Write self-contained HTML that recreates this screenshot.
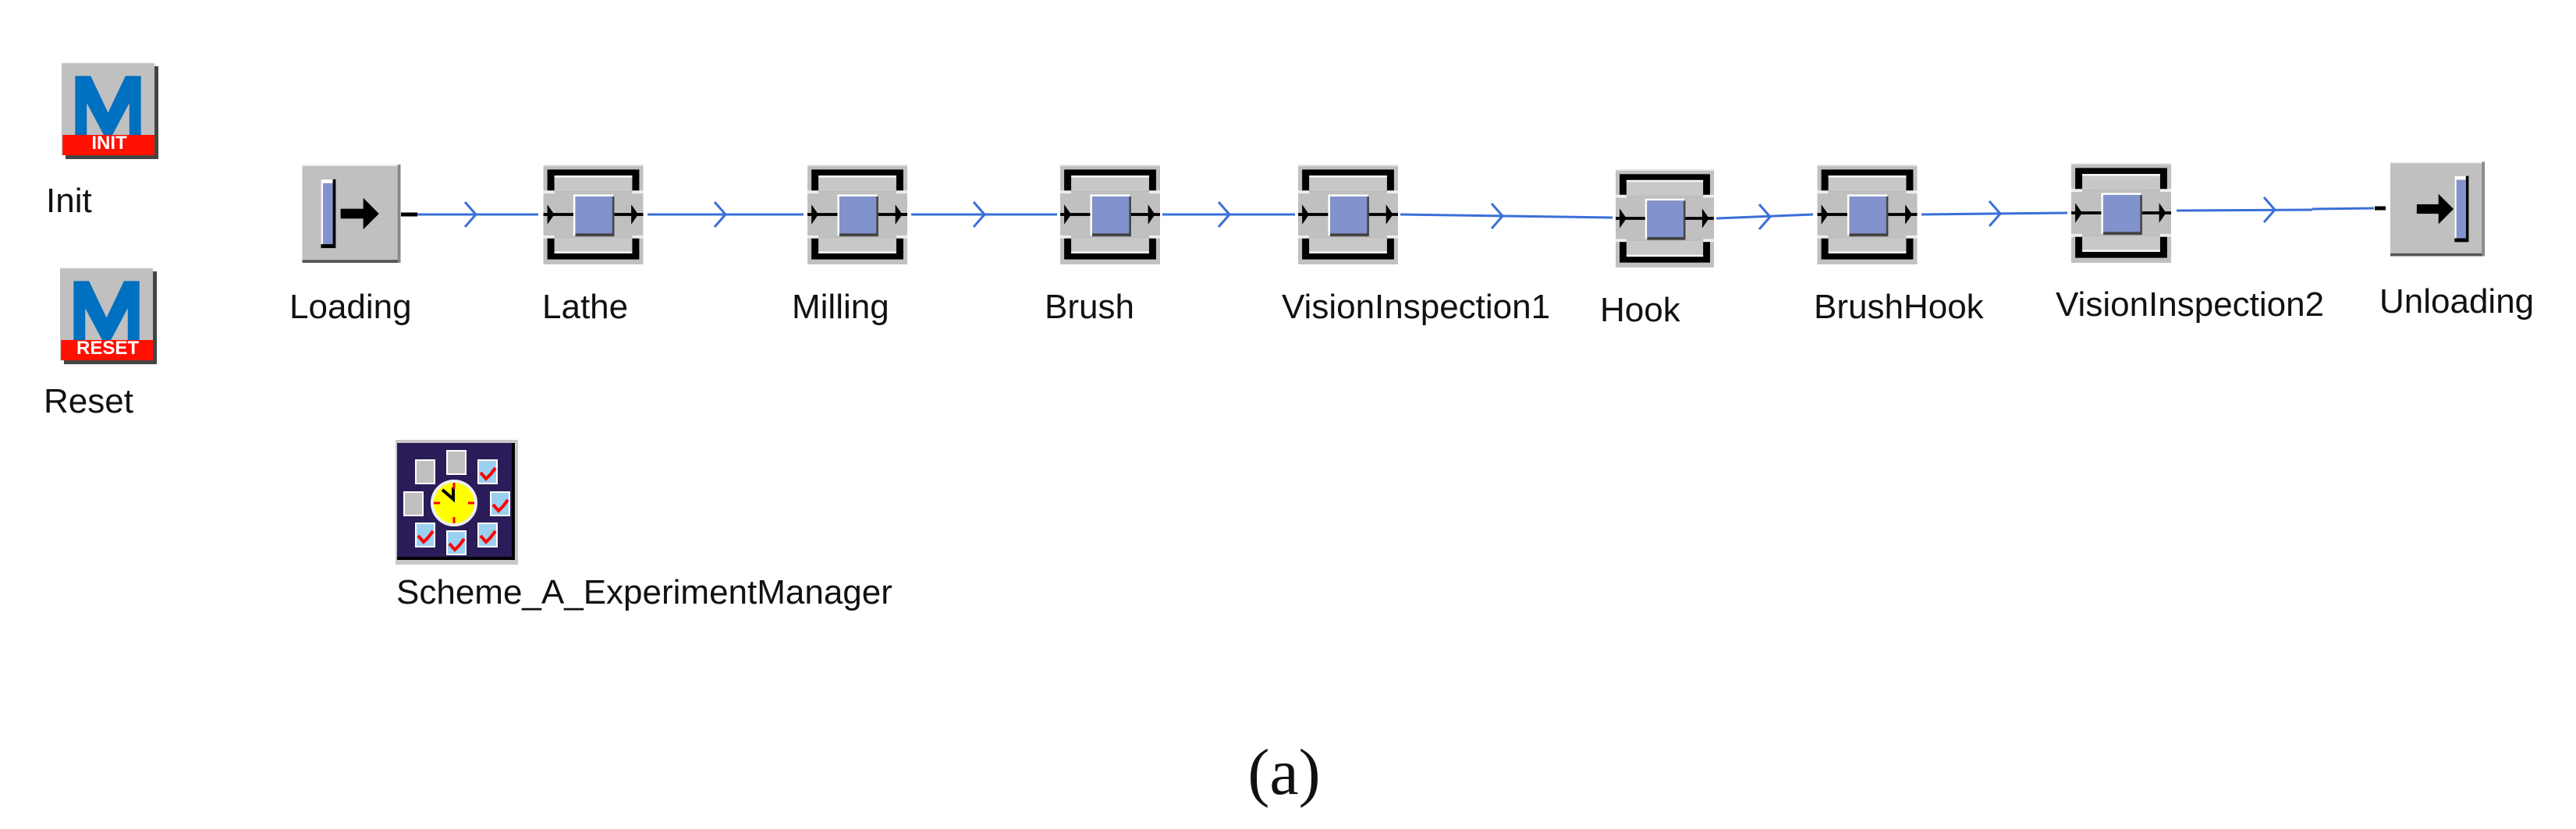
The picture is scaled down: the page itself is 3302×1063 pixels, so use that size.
<!DOCTYPE html>
<html><head><meta charset="utf-8"><style>
html,body{margin:0;padding:0;background:#fff;}
svg{display:block}
text{font-family:"Liberation Sans",sans-serif;font-size:44px;fill:#111}
</style></head><body>
<svg width="3302" height="1063" viewBox="0 0 3302 1063" xmlns="http://www.w3.org/2000/svg">
<defs>
<symbol id="st" viewBox="0 0 100 100">
<rect x="0" y="0" width="100" height="100" fill="#c0c0c0"/>
<rect x="0" y="0" width="100" height="1.5" fill="#e8e8e8"/>
<rect x="4" y="5" width="92" height="22" fill="#000"/>
<rect x="11" y="11" width="78" height="16" fill="#c8c8c8"/>
<rect x="11" y="11" width="78" height="2" fill="#f4f4f4"/>
<rect x="0" y="26" width="11" height="3" fill="#eee"/><rect x="89" y="26" width="11" height="3" fill="#eee"/>
<rect x="4" y="73" width="92" height="22" fill="#000"/>
<rect x="11" y="73" width="78" height="16" fill="#c8c8c8"/>
<rect x="11" y="87" width="78" height="2" fill="#f4f4f4"/>
<rect x="0" y="71" width="11" height="3" fill="#eee"/><rect x="89" y="71" width="11" height="3" fill="#eee"/>
<rect x="0" y="48.5" width="100" height="3" fill="#000"/>
<polygon points="4,40 11,50 4,60" fill="#000"/>
<polygon points="88,40 95,50 88,60" fill="#000"/>
<rect x="30" y="30" width="40" height="41" fill="#fff"/>
<rect x="32" y="32" width="39" height="40" fill="#444"/>
<rect x="32" y="32" width="37" height="37" fill="#8292cc"/>
</symbol>
<symbol id="ld" viewBox="0 0 100 100">
<rect x="0" y="0" width="100" height="100" fill="#c0c0c0"/>
<rect x="0" y="0" width="100" height="1.5" fill="#eee"/>
<rect x="0" y="97" width="100" height="3" fill="#555"/>
<rect x="97" y="0" width="3" height="100" fill="#888"/>
<rect x="19" y="15" width="15" height="70" fill="#000"/>
<rect x="19" y="15" width="12" height="66" fill="#fff"/>
<rect x="21" y="19" width="10" height="62" fill="#8292cc"/>
<rect x="39" y="45" width="30" height="10" fill="#000"/>
<polygon points="62,34 78,50 62,66" fill="#000"/>
</symbol>
<symbol id="ul" viewBox="0 0 100 100">
<rect x="0" y="0" width="100" height="100" fill="#c0c0c0"/>
<rect x="0" y="0" width="100" height="1.5" fill="#eee"/>
<rect x="0" y="97" width="100" height="3" fill="#555"/>
<rect x="97" y="0" width="3" height="100" fill="#888"/>
<rect x="28" y="45" width="30" height="10" fill="#000"/>
<polygon points="51,34 67,50 51,66" fill="#000"/>
<rect x="68" y="15" width="15" height="70" fill="#000"/>
<rect x="68" y="15" width="12" height="66" fill="#fff"/>
<rect x="70" y="19" width="10" height="62" fill="#8292cc"/>
</symbol>
<symbol id="m" viewBox="0 0 100 100">
<rect x="4" y="4" width="96" height="96" fill="#444"/>
<rect x="0" y="0" width="96" height="96" fill="#c0c0c0"/>
<rect x="0" y="0" width="96" height="1" fill="#eee"/>
<polygon points="14,14 30,14 48,52 66,14 82,14 82,76 70,76 70,42 52,76 44,76 26,42 26,76 14,76" fill="#0070c0"/>
<rect x="1" y="75" width="95" height="21" fill="#ff1000"/>
</symbol>
</defs>

<!-- Init / Reset -->
<use href="#m" x="78" y="80" width="126" height="124"/>
<text x="140" y="191" style="font-size:24px;fill:#fff;font-weight:bold" text-anchor="middle">INIT</text>
<text x="59" y="272">Init</text>
<use href="#m" x="76" y="343" width="126" height="124"/>
<text x="138" y="454" style="font-size:24px;fill:#fff;font-weight:bold" text-anchor="middle">RESET</text>
<text x="56" y="529">Reset</text>

<!-- connectors -->
<g stroke="#3a6fd8" stroke-width="3" fill="none">
<line x1="530" y1="275" x2="690" y2="275"/><polyline points="596,259 610,275 596,291"/>
<line x1="830" y1="275" x2="1030" y2="275"/><polyline points="916,259 930,275 916,291"/>
<line x1="1168" y1="275" x2="1355" y2="275"/><polyline points="1248,259 1262,275 1248,291"/>
<line x1="1490" y1="275" x2="1660" y2="275"/><polyline points="1562,259 1576,275 1562,291"/>
<line x1="1795" y1="275" x2="2067" y2="279"/><polyline points="1912,261 1926,277 1912,293"/>
<line x1="2200" y1="280" x2="2324" y2="275"/><polyline points="2255,262 2269,278 2255,294"/>
<line x1="2463" y1="275" x2="2650" y2="273"/><polyline points="2550,258 2564,274 2550,290"/>
<line x1="2790" y1="270" x2="2964" y2="269"/><line x1="2964" y1="268" x2="3043" y2="267"/><polyline points="2902,253 2916,269 2902,285"/>
</g>
<g stroke="#000" stroke-width="5">
<line x1="514" y1="275" x2="535" y2="275"/>
<line x1="3044" y1="267" x2="3058" y2="267"/>
</g>

<!-- nodes -->
<use href="#ld" x="387" y="211" width="127" height="126"/>
<use href="#st" x="695" y="211" width="131" height="128"/>
<use href="#st" x="1034" y="211" width="130" height="128"/>
<use href="#st" x="1358" y="211" width="130" height="128"/>
<use href="#st" x="1664" y="211" width="128" height="128"/>
<use href="#st" x="2070" y="217" width="128" height="126"/>
<use href="#st" x="2327" y="211" width="133" height="128"/>
<use href="#st" x="2654" y="209" width="130" height="128"/>
<use href="#ul" x="3064" y="206" width="121" height="124"/>

<!-- labels -->
<text x="371" y="408">Loading</text>
<text x="695" y="408">Lathe</text>
<text x="1015" y="408">Milling</text>
<text x="1339" y="408">Brush</text>
<text x="1643" y="408">VisionInspection1</text>
<text x="2051" y="412">Hook</text>
<text x="2325" y="408">BrushHook</text>
<text x="2635" y="405">VisionInspection2</text>
<text x="3050" y="401">Unloading</text>

<!-- experiment manager -->
<rect x="507" y="564" width="157" height="160" fill="#c8c8c8"/>
<rect x="509" y="568" width="151" height="150" fill="#000"/>
<rect x="509" y="568" width="147" height="146" fill="#2a1c58"/>
<g fill="#c0c0c0" stroke="#fff" stroke-width="2">
<rect x="533" y="590" width="24" height="30"/><rect x="573" y="578" width="24" height="30"/><rect x="518" y="631" width="24" height="30"/>
</g>
<g fill="#9cd0f0" stroke="#fff" stroke-width="2">
<rect x="613" y="590" width="24" height="30"/><rect x="629" y="631" width="24" height="30"/><rect x="613" y="671" width="24" height="30"/><rect x="573" y="681" width="24" height="30"/><rect x="533" y="671" width="24" height="30"/>
</g>
<g stroke="#f00" stroke-width="4" fill="none">
<polyline points="616,606 623,614 629,608 635,600"/><polyline points="632,647 639,655 645,649 651,641"/><polyline points="616,687 623,695 629,689 635,681"/><polyline points="576,697 583,705 589,699 595,691"/><polyline points="536,687 543,695 549,689 555,681"/>
</g>
<circle cx="582" cy="645" r="28" fill="#ffff00" stroke="#eee" stroke-width="4"/>
<polyline points="567,628 581,640 581,625" stroke="#000" stroke-width="4" fill="none"/>
<g stroke="#f00" stroke-width="3"><line x1="582" y1="619" x2="582" y2="627"/><line x1="582" y1="663" x2="582" y2="671"/><line x1="556" y1="645" x2="564" y2="645"/><line x1="600" y1="645" x2="608" y2="645"/></g>
<text x="508" y="774">Scheme_A_ExperimentManager</text>

<text x="1646" y="1018" text-anchor="middle" style="font-family:'Liberation Serif',serif;font-size:84px">(a)</text>
</svg>
</body></html>
